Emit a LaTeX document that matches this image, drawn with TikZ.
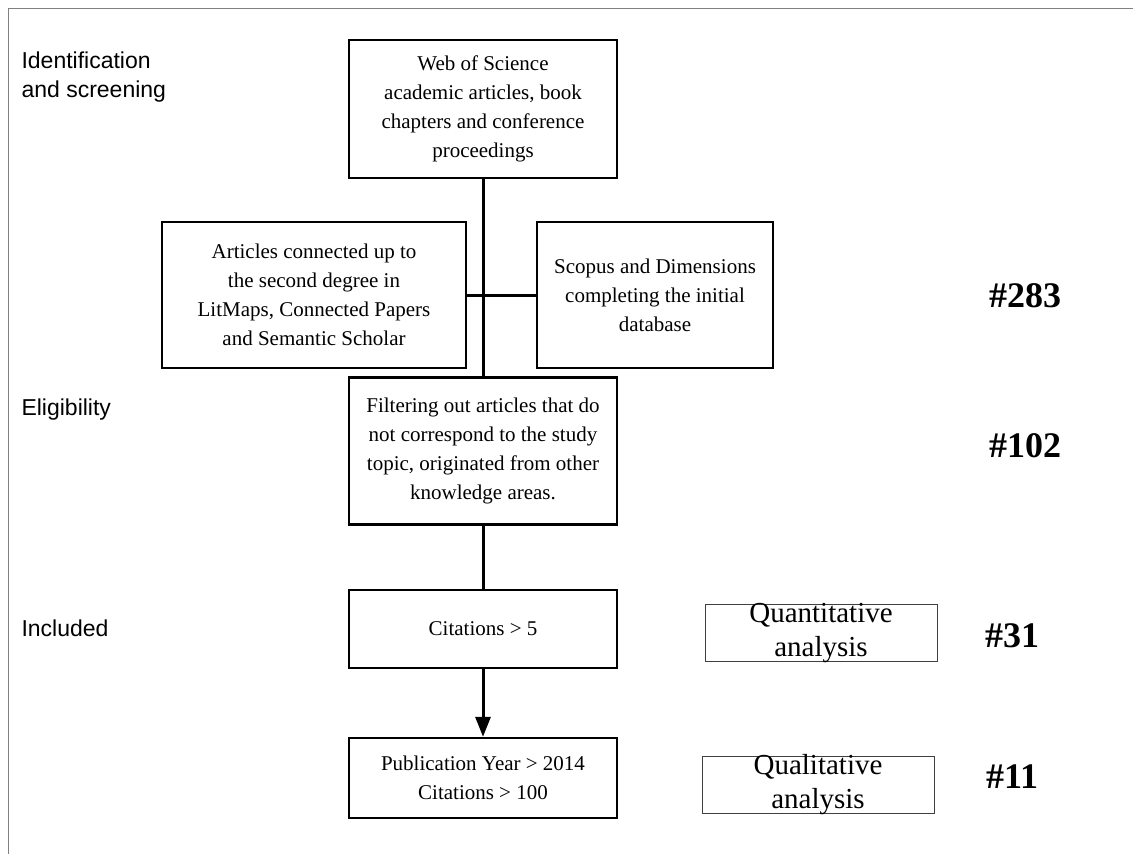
\documentclass[tikz,border=0pt]{standalone}
\usepackage{fontspec}
\setmainfont{Liberation Serif}
\newfontfamily\labelfont{Liberation Sans}
\usetikzlibrary{arrows.meta}

\begin{document}
\begin{tikzpicture}[x=1pt, y=-1pt,
	every node/.style={font=\fontsize{21}{29}\selectfont},
	box/.style={draw, line width=2.4pt, align=center, inner sep=0pt, minimum width=268pt},
	anabox/.style={draw=black!75, line width=1pt, minimum width=232pt, minimum height=57pt, inner sep=0pt},
	anatext/.style={align=center, font=\fontsize{29}{34}\selectfont},
	phase/.style={anchor=west, align=left, font=\labelfont\fontsize{23}{29}\selectfont},
	count/.style={font=\fontsize{36}{40}\selectfont\bfseries},
	link/.style={line width=3pt}]
	\useasboundingbox (0,0) rectangle (1133,854);
	\draw[black!50, line width=0.8pt] (8,854) -- (8,8) -- (1133,8);
	% phases
	\node[phase] (ident) at (18,77) {Identification\\and screening};
	\node[phase] (elig) at (18,410) {Eligibility};
	\node[phase] (incl) at (18,628) {Included};
	% boxes
	\node[box, minimum height=138pt] (web) at (483,109) {Web of Science\\academic articles, book\\chapters and conference\\proceedings};
	\node[box, minimum width=304pt, minimum height=146pt] (maps) at (314,295) {Articles connected up to\\the second degree in\\LitMaps, Connected Papers\\and Semantic Scholar};
	\node[box, minimum width=236pt, minimum height=146pt] (scopus) at (655,295) {Scopus and Dimensions\\completing the initial\\database};
	\node[box, minimum height=147pt] (filter) at (483,451) {Filtering out articles that do\\not correspond to the study\\topic, originated from other\\knowledge areas.};
	\node[box, minimum height=78pt] (cit) at (483,629) {Citations > 5};
	\node[box, minimum height=80pt] (pub) at (483,778) {Publication Year > 2014\\Citations > 100};
	% analysis
	\node[anabox] (quant) at (821,633) {};
	\node[anatext] (quanttxt) at (quant) {Quantitative\\analysis};
	\node[anabox] (qual) at (818,785) {};
	\node[anatext] (qualtxt) at (qual) {Qualitative\\analysis};
	% counts
	\node[count] (n283) at (1025,296) {\#283};
	\node[count] (n102) at (1025,446) {\#102};
	\node[count] (n31) at (1012,636) {\#31};
	\node[count] (n11) at (1012,777) {\#11};
	% connectors
	\draw[link] (web.south) -- (filter.north);
	\draw[link] (maps.east) -- (scopus.west);
	\draw[link] (filter.south) -- (cit.north);
	\draw[link, -{Triangle[length=20pt, width=15pt]}] (cit.south) -- (pub.north);
\end{tikzpicture}
\end{document}
